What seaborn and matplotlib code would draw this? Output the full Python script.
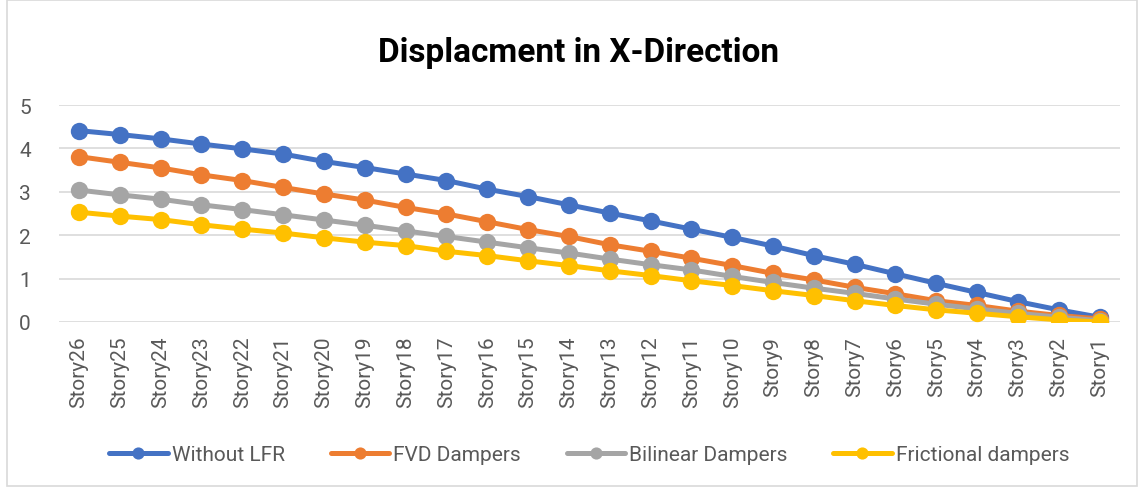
import pandas as pd
import numpy as np
import matplotlib
matplotlib.use("Agg")
import matplotlib.pyplot as plt
import seaborn as sns

# Data
stories = ["Story%d" % i for i in range(26, 0, -1)]
without_lfr = [4.41, 4.32, 4.22, 4.10, 3.99, 3.87, 3.70, 3.56, 3.41, 3.26, 3.06, 2.89, 2.70,
               2.51, 2.33, 2.14, 1.95, 1.75, 1.53, 1.33, 1.11, 0.89, 0.68, 0.47, 0.28, 0.11]
fvd = [3.81, 3.68, 3.55, 3.39, 3.26, 3.10, 2.95, 2.81, 2.64, 2.49, 2.31, 2.13, 1.97,
       1.78, 1.63, 1.47, 1.30, 1.12, 0.97, 0.80, 0.65, 0.49, 0.38, 0.25, 0.15, 0.07]
bilinear = [3.04, 2.93, 2.83, 2.70, 2.59, 2.47, 2.35, 2.23, 2.10, 1.97, 1.84, 1.71, 1.59,
            1.45, 1.32, 1.20, 1.05, 0.91, 0.78, 0.66, 0.53, 0.41, 0.30, 0.20, 0.11, 0.03]
frictional = [2.53, 2.44, 2.36, 2.24, 2.14, 2.05, 1.94, 1.84, 1.76, 1.63, 1.53, 1.41, 1.30,
              1.18, 1.07, 0.95, 0.84, 0.72, 0.61, 0.49, 0.38, 0.28, 0.20, 0.12, 0.05, 0.00]
series_names = ["Without LFR", "FVD Dampers", "Bilinear Dampers", "Frictional dampers"]
colors = ["#4472C4", "#ED7D31", "#A5A5A5", "#FFC000"]

sns.set_style("white")
plt.rcParams['font.family'] = ['Roboto', 'DejaVu Sans']

# long format for seaborn
frames = []
for name, vals in zip(series_names, [without_lfr, fvd, bilinear, frictional]):
    frames.append(pd.DataFrame({"Story": stories, "Disp": vals, "Case": name}))
df = pd.concat(frames, ignore_index=True)

fig = plt.figure(figsize=(11.44, 4.89), dpi=100)
ax = fig.add_axes([0.0512, 0.3395, 0.9278, 0.4437])

sns.lineplot(data=df, x="Story", y="Disp", hue="Case", palette=colors, sort=False,
             marker="o", markersize=12.5, markeredgewidth=0, linewidth=3.6, ax=ax)

ax.set_xlim(-0.5, len(stories) - 0.5)
ax.set_ylim(0, 5)
ax.set_yticks([0, 1, 2, 3, 4, 5])
ax.grid(axis="y", color="#D9D9D9", linewidth=1.2)
ax.set_axisbelow(True)
for s in ax.spines.values():
    s.set_visible(False)
ax.tick_params(axis="both", length=0, labelsize=15, colors="#595959")
ax.tick_params(axis="y", pad=20)
ax.tick_params(axis="x", pad=10)
plt.setp(ax.get_xticklabels(), rotation=90)
ax.set_xlabel("")
ax.set_ylabel("")

fig.suptitle("Displacment in X-Direction", x=0.506, y=0.925, fontsize=24,
             fontweight="bold", color="black")

ax.legend(loc="center", bbox_to_anchor=(0.5, -0.61), ncol=4, frameon=False,
          fontsize=15, labelcolor="#595959", handlelength=2.8, handletextpad=0.2,
          columnspacing=2.2, markerscale=0.7)

# chart border
fig.patches.append(plt.Rectangle((0.006, 0.004), 0.988, 0.994, transform=fig.transFigure,
                                 fill=False, edgecolor="#D9D9D9", linewidth=1.2))

fig.savefig("out.png", dpi=100)
